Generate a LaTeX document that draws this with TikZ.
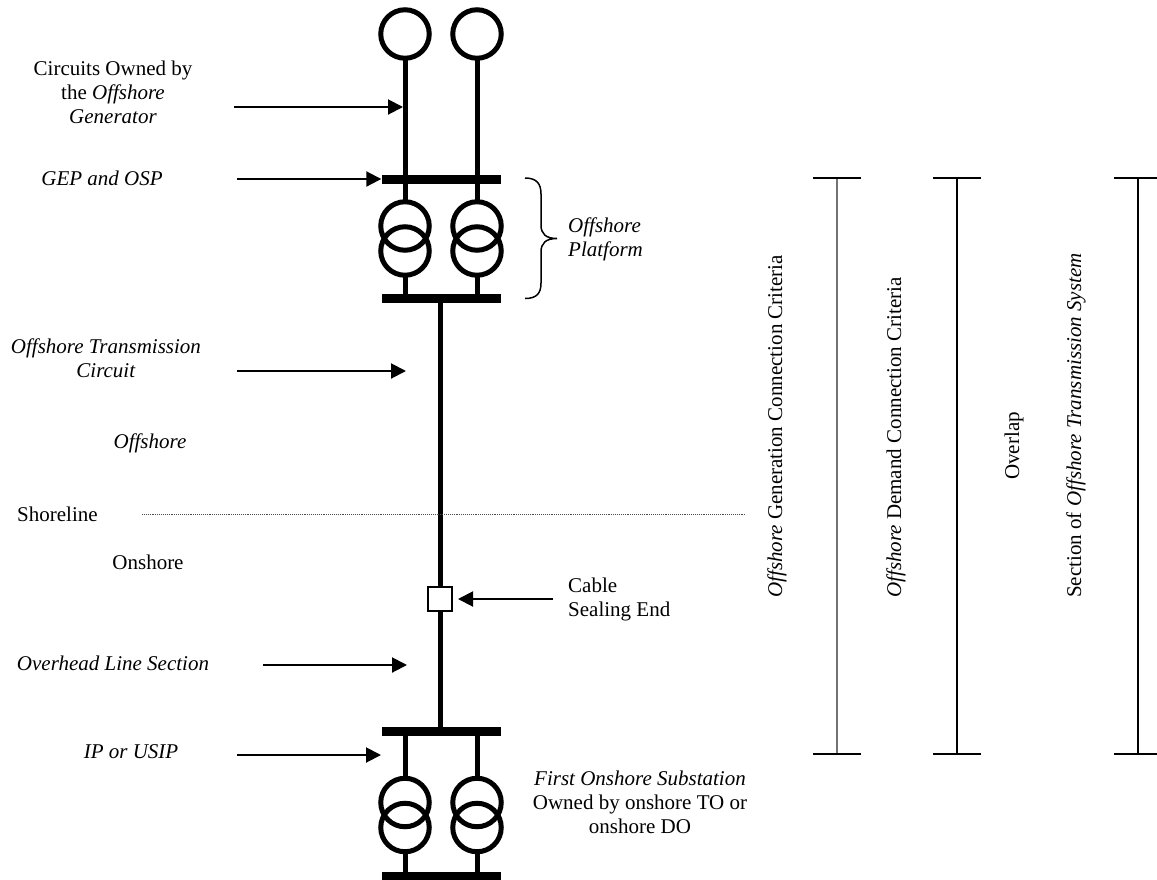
\documentclass[tikz,border=0pt]{standalone}
\usepackage{fontspec}
\setmainfont{Liberation Serif}
\usetikzlibrary{arrows.meta}
\begin{document}
\begin{tikzpicture}[x=1pt,y=-1pt,
  lbl/.style={inner sep=0pt, font=\fontsize{21}{24}\selectfont, align=center},
  lblL/.style={inner sep=0pt, font=\fontsize{21}{24}\selectfont, align=left},
  vlbl/.style={inner sep=0pt, font=\fontsize{21}{24}\selectfont, rotate=90, anchor=base west},
  ptr/.style={line width=2pt, -{Triangle[length=15pt,width=15pt]}},
  wire/.style={line width=5pt},
  coil/.style={circle, draw, line width=5pt, minimum size=48.5pt, inner sep=0pt, outer sep=0pt},
  busbar/.style={rectangle, fill=black, minimum width=119pt, minimum height=9pt, inner sep=0pt},
  capline/.style={line width=2pt},
  spanline/.style={line width=2pt}
]
\useasboundingbox (0,0) rectangle (1157,879);

% generators
\node[coil] (g1) at (405,34) {};
\node[coil] (g2) at (477,34) {};
\node[busbar] (busA) at (441,179) {};
% offshore transformers
\node[coil] (t1a) at (405,226) {};
\node[coil] (t1b) at (405,251) {};
\node[coil] (t2a) at (477,226) {};
\node[coil] (t2b) at (477,251) {};
\node[busbar] (busB) at (441,298.5) {};
% cable sealing end
\node[rectangle, draw, fill=white, line width=2pt, minimum size=24pt, inner sep=0pt] (cse) at (440,599) {};
% onshore substation
\node[busbar] (busC) at (441,731) {};
\node[coil] (t3a) at (405,802.5) {};
\node[coil] (t3b) at (405,827.5) {};
\node[coil] (t4a) at (477,802.5) {};
\node[coil] (t4b) at (477,827.5) {};
\node[busbar] (busD) at (441,876) {};

% wires
\draw[wire] (g1.south) -- (t1a.north);
\draw[wire] (g2.south) -- (t2a.north);
\draw[wire] (t1b.south) -- (t1b.south |- busB.center);
\draw[wire] (t2b.south) -- (t2b.south |- busB.center);
\draw[wire] (busB.center -| cse) -- (cse.north);
\draw[wire] (cse.south) -- (cse |- busC.center);
\draw[wire] (t3a.north |- busC.center) -- (t3a.north);
\draw[wire] (t4a.north |- busC.center) -- (t4a.north);
\draw[wire] (t3b.south) -- (t3b.south |- busD.center);
\draw[wire] (t4b.south) -- (t4b.south |- busD.center);

% left labels (base anchor = baseline of last line)
\node[lbl, anchor=base] (lcirc) at (113,123) {Circuits Owned by\\ the \textit{Offshore}\\ \textit{Generator}};
\node[lbl, anchor=base] (lgep) at (102,185) {\textit{GEP and OSP}};
\node[lbl, anchor=base] (lotc) at (106,377) {\textit{Offshore Transmission}\\ \textit{Circuit}};
\node[lbl, anchor=base] (loff) at (150,448) {\textit{Offshore}};
\node[lbl, anchor=base west] (lshore) at (17,521) {Shoreline};
\node[lbl, anchor=base] (lon) at (148,569) {Onshore};
\node[lbl, anchor=base] (lohl) at (113,670) {\textit{Overhead Line Section}};
\node[lbl, anchor=base] (lip) at (131,758) {\textit{IP or USIP}};

% arrows
\coordinate (a1s) at (234,107);
\coordinate (a1e) at (403,107);
\draw[ptr] (a1s) -- (a1e);
\coordinate (a2s) at (237,179);
\draw[ptr] (a2s) -- (busA.west);
\coordinate (a3s) at (237,371);
\coordinate (a3e) at (406,371);
\draw[ptr] (a3s) -- (a3e);
\coordinate (a4s) at (263,665);
\coordinate (a4e) at (407,665);
\draw[ptr] (a4s) -- (a4e);
\coordinate (a5s) at (237,755);
\coordinate (a5e) at (381,755);
\draw[ptr] (a5s) -- (a5e);
\coordinate (a6s) at (553,599);
\draw[ptr] (a6s) -- ([xshift=5pt]cse.east);

% shoreline
\coordinate (sh1) at (142,514);
\coordinate (sh2) at (745,514);
\draw[densely dotted, line width=0.9pt, black!70] (sh1) -- (sh2);

% right-hand labels
\node[lblL, anchor=base west] (lcse) at (568,616) {Cable\\ Sealing End};
\node[lblL, anchor=base west] (lplat) at (568,256) {\textit{Offshore}\\ \textit{Platform}};
\node[lbl, anchor=base] (lfos) at (640,833) {\textit{First Onshore Substation}\\ Owned by onshore TO or\\ onshore DO};

% brace
\draw[line width=1.5pt] (525,178) .. controls (537,178) and (541,184) .. (541,194) -- (541,225)
  .. controls (541,234) and (546,238.5) .. (557,238.5)
  .. controls (546,238.5) and (541,243) .. (541,252) -- (541,283)
  .. controls (541,293) and (537,298.5) .. (525,298.5);

% spans
\coordinate (s1t) at (837,178); \coordinate (s1b) at (837,754);
\coordinate (s2t) at (957,178); \coordinate (s2b) at (957,754);
\coordinate (s3t) at (1138,178); \coordinate (s3b) at (1138,754);
\draw[line width=1.2pt, black!55] (s1t) -- (s1b);
\draw[spanline] (s2t) -- (s2b);
\draw[spanline] (s3t) -- (s3b);
\draw[capline] ([xshift=-24pt]s1t) -- ([xshift=24pt]s1t);
\draw[capline] ([xshift=-24pt]s1b) -- ([xshift=24pt]s1b);
\draw[capline] ([xshift=-24pt]s2t) -- ([xshift=24pt]s2t);
\draw[capline] ([xshift=-24pt]s2b) -- ([xshift=24pt]s2b);
\draw[capline] ([xshift=-24pt]s3t) -- ([xshift=24pt]s3t);
\draw[capline] ([xshift=-24pt]s3b) -- ([xshift=24pt]s3b);

\node[vlbl] (v1) at (782,598) {\textit{Offshore} Generation Connection Criteria};
\node[vlbl] (v2) at (901,598) {\textit{Offshore} Demand Connection Criteria};
\node[vlbl] (v3) at (1019,480) {Overlap};
\node[vlbl] (v4) at (1081,598) {Section of \textit{Offshore Transmission System}};
\end{tikzpicture}
\end{document}
